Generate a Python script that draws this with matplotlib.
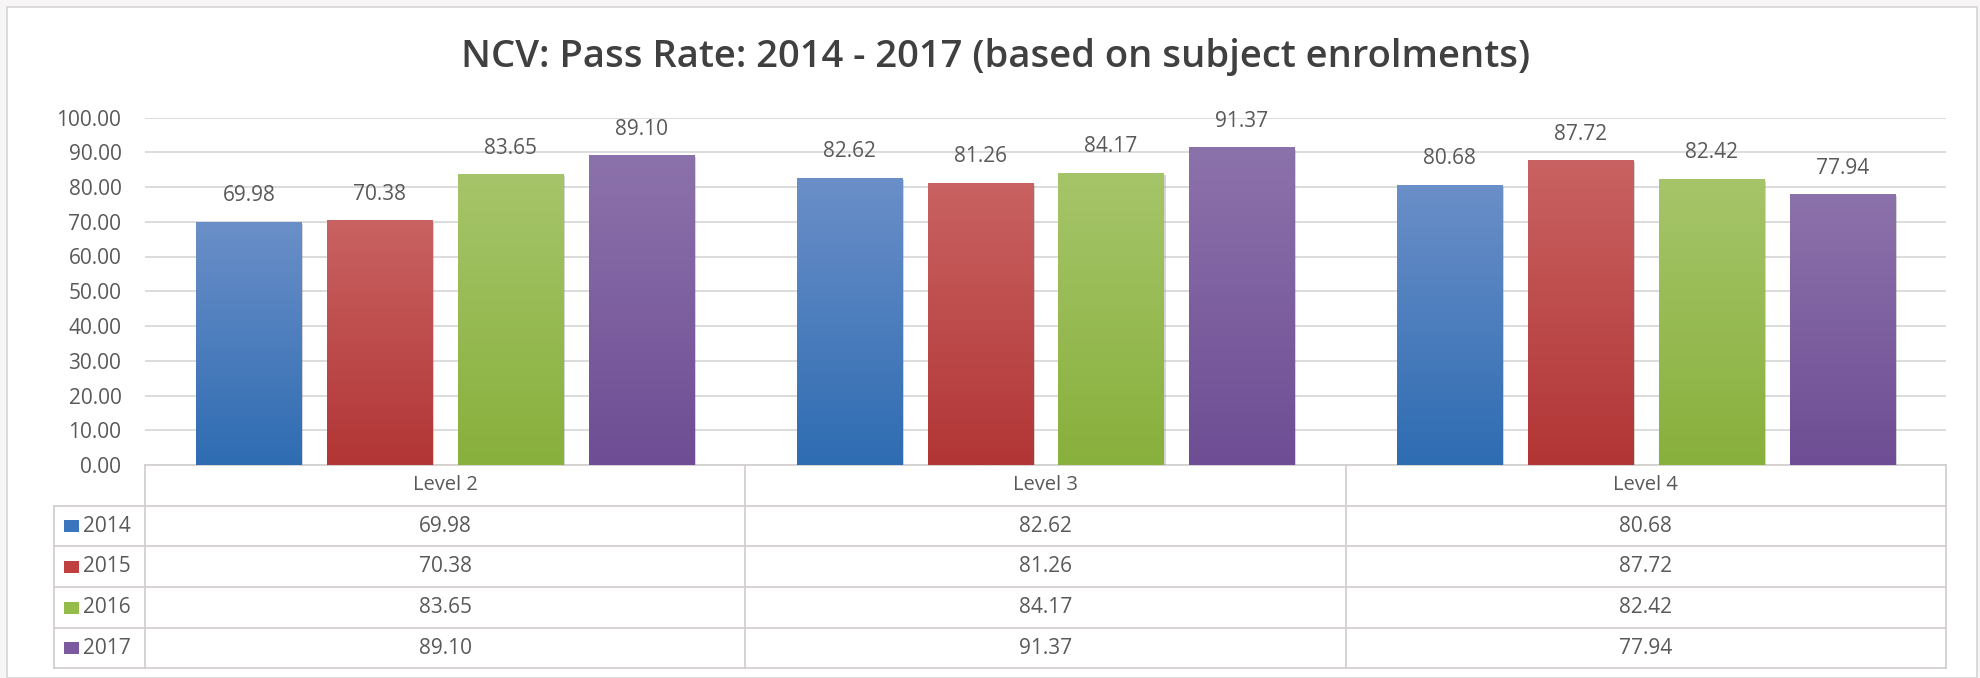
import matplotlib
matplotlib.use("Agg")
import matplotlib.pyplot as plt
import numpy as np
from matplotlib.colors import LinearSegmentedColormap
from matplotlib.transforms import blended_transform_factory
import matplotlib.patheffects as pe
from matplotlib.patches import Rectangle

# Pass rates per level (based on subject enrolments)
LEVELS = ['Level 2', 'Level 3', 'Level 4']
YEARS = ['2014', '2015', '2016', '2017']
RATE_2014 = [69.98, 82.62, 80.68]
RATE_2015 = [70.38, 81.26, 87.72]
RATE_2016 = [83.65, 84.17, 82.42]
RATE_2017 = [89.10, 91.37, 77.94]
RATES = [RATE_2014, RATE_2015, RATE_2016, RATE_2017]

# (top, bottom) gradient colours and legend swatch colour
GRADIENTS = [('#6b8fc8', '#2e6cb2'), ('#c96262', '#b23535'),
             ('#a6c56a', '#88b03c'), ('#8c72ab', '#6e4d94')]
SWATCH = ['#3a75bd', '#c0403f', '#95bb4b', '#7b5aa0']

plt.rcParams['font.family'] = ['Open Sans', 'DejaVu Sans']
TEXT = '#595959'
GRID = '#d9d9d9'
FS = 15

W, H = 1981, 678
fig = plt.figure(figsize=(W / 100, H / 100), dpi=100)
fig.patch.set_facecolor('#f7f5f5')

# white chart panel with thin border
panel = Rectangle((7 / W, 0), (1977 - 7) / W, 1 - 7 / H, transform=fig.transFigure,
                  facecolor='white', edgecolor='#d6d6d6', linewidth=1.2, zorder=-10)
fig.patches.append(panel)

# plot area in pixel terms
L, R, T, B = 145, 1946, 117.5, 465
ax = fig.add_axes([L / W, 1 - B / H, (R - L) / W, (B - T) / H])
ax.set_facecolor('none')

x = np.arange(len(LEVELS))
step, width = 0.218, 0.175

for i, vals in enumerate(RATES):
    bars = ax.bar(x + (i - 1.5) * step, vals, width, color=GRADIENTS[i][1], zorder=2,
                  path_effects=[pe.SimplePatchShadow(offset=(1.5, -1.5), shadow_rgbFace='#888888', alpha=0.35),
                                pe.Normal()])
    cmap = LinearSegmentedColormap.from_list('g%d' % i, [GRADIENTS[i][1], GRADIENTS[i][0]])
    grad = np.linspace(0, 1, 256).reshape(-1, 1)
    for b, v in zip(bars, vals):
        im = ax.imshow(grad, extent=[b.get_x(), b.get_x() + b.get_width(), 0, v],
                       origin='lower', aspect='auto', cmap=cmap, zorder=3)
        im.set_clip_path(b)
        ax.text(b.get_x() + b.get_width() / 2, v + 7.5, '%.2f' % v, ha='center', va='center',
                fontsize=FS, color=TEXT, zorder=4)

ax.set_xlim(-0.5, 2.5)
ax.set_ylim(0, 100)
ax.set_yticks(np.arange(0, 101, 10))
ax.set_yticklabels(['%.2f' % t for t in np.arange(0, 101, 10)])
ax.tick_params(axis='y', length=0, labelsize=FS, labelcolor=TEXT, pad=17)
ax.set_xticks([])
ax.grid(axis='y', color=GRID, linewidth=1.3, zorder=0)
ax.set_axisbelow(True)
for s in ax.spines.values():
    s.set_visible(False)

fig.text(996 / W, 1 - 57 / H, 'NCV: Pass Rate: 2014 - 2017 (based on subject enrolments)',
         fontsize=27.5, fontweight='semibold', color='#404040', ha='center', va='center')

# data table under the axis
tr = blended_transform_factory(ax.transData, ax.transAxes)
upp = (R - L) / 3.0  # pixels per category unit


def ay(py):
    return (B - py) / (B - T)


def dx(px):
    return -0.5 + (px - L) / upp


row_lines = [465, 506, 546, 587, 628, 668]
x_leg = dx(54)
line_kw = dict(color='#d4d0d0', linewidth=1.3, transform=tr, clip_on=False, zorder=1)
ax.plot([-0.5, 2.5], [ay(465), ay(465)], **line_kw)
for py in row_lines[1:]:
    ax.plot([x_leg, 2.5], [ay(py), ay(py)], **line_kw)
for xv in [-0.5, 0.5, 1.5, 2.5]:
    ax.plot([xv, xv], [ay(465), ay(668)], **line_kw)
ax.plot([x_leg, x_leg], [ay(506), ay(668)], **line_kw)

for j, lev in enumerate(LEVELS):
    ax.text(j, ay(485), lev, ha='center', va='center', fontsize=FS - 0.5, color=TEXT,
            transform=tr, clip_on=False)
for i, vals in enumerate(RATES):
    yc = ay((row_lines[i + 1] + row_lines[i + 2]) / 2)
    for j, v in enumerate(vals):
        ax.text(j, yc, '%.2f' % v, ha='center', va='center', fontsize=FS, color=TEXT,
                transform=tr, clip_on=False)
    ax.add_patch(Rectangle((dx(64), yc - 6 / (B - T)), dx(79) - dx(64), 12 / (B - T), transform=tr,
                           facecolor=SWATCH[i], edgecolor='none', clip_on=False))
    ax.text(dx(83), yc, YEARS[i], ha='left', va='center', fontsize=FS, color=TEXT,
            transform=tr, clip_on=False)

fig.savefig('out.png', dpi=100, facecolor=fig.get_facecolor())
